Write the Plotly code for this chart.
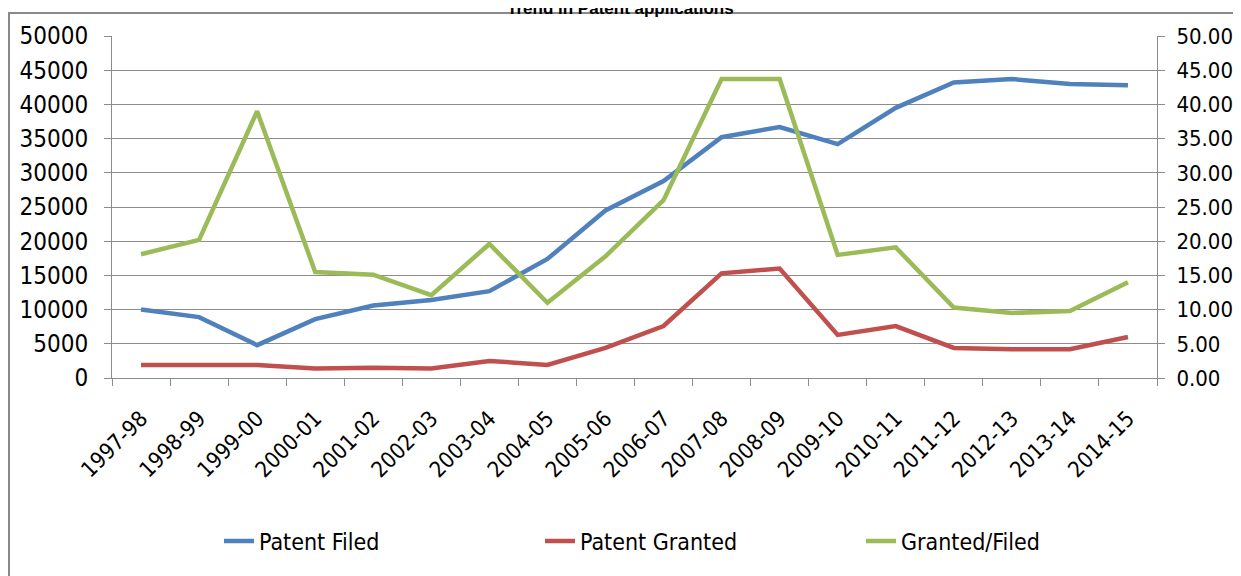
import plotly.graph_objects as go

years = ["1997-98", "1998-99", "1999-00", "2000-01", "2001-02", "2002-03", "2003-04",
         "2004-05", "2005-06", "2006-07", "2007-08", "2008-09", "2009-10", "2010-11",
         "2011-12", "2012-13", "2013-14", "2014-15"]
patent_filed = [10000, 8900, 4800, 8600, 10600, 11400, 12700, 17400, 24500, 28800,
                35200, 36700, 34200, 39500, 43200, 43700, 43000, 42800]
patent_granted = [1900, 1900, 1900, 1400, 1500, 1400, 2500, 1900, 4400, 7600,
                  15300, 16000, 6300, 7600, 4400, 4200, 4200, 6000]
granted_filed = [18.1, 20.2, 39.0, 15.5, 15.1, 12.1, 19.6, 11.0, 17.8, 26.0,
                 43.7, 43.7, 18.0, 19.1, 10.3, 9.5, 9.8, 14.0]

FONT = "Liberation Sans Narrow, DejaVu Sans Condensed, Arial Narrow, sans-serif"
GRID = "#8c8c8c"

fig = go.Figure()
fig.add_trace(go.Scatter(x=years, y=patent_filed, name="Patent Filed", mode="lines",
                         line=dict(color="#4F81BD", width=4.5)))
fig.add_trace(go.Scatter(x=years, y=patent_granted, name="Patent Granted", mode="lines",
                         line=dict(color="#C0504D", width=4.5)))
fig.add_trace(go.Scatter(x=years, y=granted_filed, name="Granted/Filed", mode="lines",
                         line=dict(color="#9BBB59", width=4.5), yaxis="y2"))

# page body has an 8px margin; work in screen pixels and shift
O = 8
W, H = 1241 - O, 576 - O
PL, PR, PT, PB = 112, 1157, 36, 378  # plot area in screen pixels
L, R, T, B = PL - O, W - (PR - O), PT - O, H - (PB - O)
pw, ph = W - L - R, H - T - B

def px_x(p):
    return (p - PL) / pw

def px_y(p):
    return (PB - p) / ph

fig.update_layout(
    width=W, height=H,
    margin=dict(l=L, r=R, t=T, b=B, autoexpand=False),
    plot_bgcolor="white", paper_bgcolor="white",
    font=dict(family=FONT, size=20, color="#000000"),
    showlegend=True,
    legend=dict(orientation="h", x=px_x(219), xanchor="left", y=px_y(541), yanchor="middle",
                font=dict(family=FONT, size=23), entrywidth=276, entrywidthmode="pixels",
                bgcolor="rgba(0,0,0,0)", tracegroupgap=0),
    xaxis=dict(type="category", tickangle=-45, showgrid=False, showline=True,
               linecolor=GRID, linewidth=1, ticks="outside", tickson="boundaries",
               ticklen=7, tickcolor=GRID, range=[-0.5, len(years) - 0.5], automargin=False,
               ticklabelstandoff=18, tickfont=dict(family=FONT, size=22)),
    yaxis=dict(range=[0, 50000], dtick=5000, showgrid=True, gridcolor=GRID, gridwidth=1,
               showline=True, linecolor=GRID, ticks="outside", ticklen=7, tickcolor=GRID,
               zeroline=False, tickformat="d", automargin=False, ticklabelstandoff=11,
               tickfont=dict(family=FONT, size=24)),
    yaxis2=dict(range=[0, 50], dtick=5, overlaying="y", side="right", showgrid=False,
                showline=True, linecolor=GRID, ticks="outside", ticklen=7, tickcolor=GRID,
                zeroline=False, tickformat=".2f", automargin=False, ticklabelstandoff=7,
                tickfont=dict(family=FONT, size=22)),
)

fig.add_annotation(text="<b>Trend in Patent applications</b>", xref="paper", yref="paper",
                   x=px_x(620), y=px_y(9), xanchor="center", yanchor="middle",
                   showarrow=False, font=dict(family="Liberation Sans, Arial, sans-serif", size=17))

fig.add_shape(type="rect", xref="paper", yref="paper",
              x0=px_x(O + 1), x1=px_x(1260), y0=px_y(600), y1=px_y(13),
              line=dict(color="#8a8a8a", width=2), fillcolor="rgba(0,0,0,0)", layer="below")

fig.write_html("out.html")
